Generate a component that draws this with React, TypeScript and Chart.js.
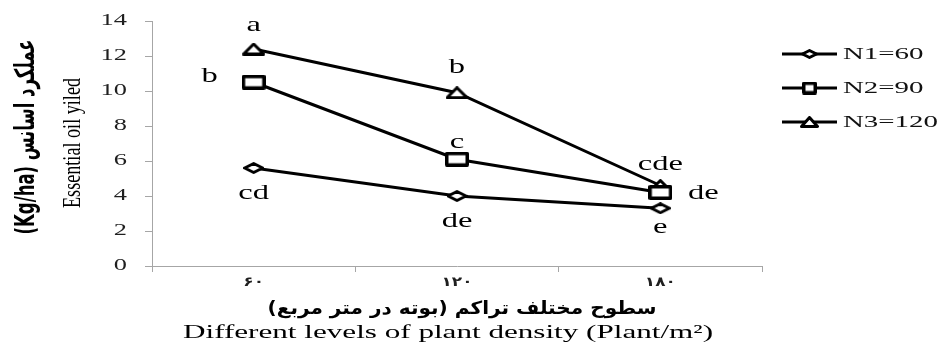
import React, { useEffect, useRef } from 'react';
import { Chart, registerables } from 'chart.js';

Chart.register(...registerables);

// ---------- data ----------
const categories = ['۶۰', '۱۲۰', '۱۸۰'];
const seriesNames = ['N1=60', 'N2=90', 'N3=120'];
const n1Values = [5.6, 4.0, 3.3];
const n2Values = [10.5, 6.1, 4.2];
const n3Values = [12.4, 9.9, 4.6];
const n1Letters = ['cd', 'de', 'e'];
const n2Letters = ['b', 'c', 'de'];
const n3Letters = ['a', 'b', 'cde'];
const yMin = 0;
const yMax = 14;
const yStep = 2;
const yTitleFa = 'عملکرد اسانس (Kg/ha)';
const yTitleEn = 'Essential oil yiled';
const xTitleFa = 'سطوح مختلف تراکم (بوته در متر مربع)';
const xTitleEn = 'Different levels of plant density (Plant/m²)';

// ---------- styling / placement (not data) ----------
const letterOffsets = [
  [[0, 31], [0, 31], [0, 25]],
  [[-44, 0], [0, -11], [43, 6]],
  [[0, -18], [0, -20], [0, -16]],
];
const SERIF = '"Liberation Serif", "Times New Roman", serif';
const FA = '"DejaVu Sans", sans-serif';

function makeMarker(shape: string, w: number, h: number, lw: number) {
  const c = document.createElement('canvas');
  c.width = w;
  c.height = h;
  const ctx = c.getContext('2d')!;
  ctx.lineWidth = lw;
  ctx.strokeStyle = '#000';
  ctx.fillStyle = '#fff';
  ctx.lineJoin = 'round';
  const p = lw / 2;
  ctx.beginPath();
  if (shape === 'square') {
    ctx.rect(p, p, w - lw, h - lw);
  } else if (shape === 'diamond') {
    ctx.moveTo(w / 2, p);
    ctx.lineTo(w - p, h / 2);
    ctx.lineTo(w / 2, h - p);
    ctx.lineTo(p, h / 2);
    ctx.closePath();
  } else {
    ctx.moveTo(w / 2, p);
    ctx.lineTo(w - p, h - p);
    ctx.lineTo(p, h - p);
    ctx.closePath();
  }
  ctx.fill();
  ctx.stroke();
  return c;
}

type TOpts = {
  font: string;
  sx?: number;
  fitW?: number;
  align?: CanvasTextAlign;
  baseline?: CanvasTextBaseline;
  dir?: CanvasDirection;
  color?: string;
  rotated?: boolean;
  thick?: number;
};

function drawText(ctx: CanvasRenderingContext2D, text: string, x: number, y: number, o: TOpts) {
  ctx.save();
  ctx.font = o.font;
  ctx.direction = o.dir || 'ltr';
  ctx.fillStyle = o.color || '#000';
  ctx.textAlign = o.align || 'center';
  ctx.textBaseline = o.baseline || 'alphabetic';
  const w = ctx.measureText(text).width;
  let s = o.sx || 1;
  if (o.fitW) s = o.fitW / w;
  ctx.translate(x, y);
  if (o.rotated) {
    ctx.scale(o.thick || 1, s);
    ctx.rotate(-Math.PI / 2);
  } else {
    ctx.scale(s, 1);
  }
  ctx.fillText(text, 0, 0);
  ctx.restore();
}

export default function App() {
  const ref = useRef<HTMLCanvasElement | null>(null);

  useEffect(() => {
    const chartMarkers = [
      makeMarker('diamond', 21, 12, 3),
      makeMarker('square', 24, 15, 3.5),
      makeMarker('triangle', 23, 13, 3),
    ];
    const legendMarkers = [
      makeMarker('diamond', 17, 10, 3),
      makeMarker('square', 15, 13, 3.5),
      makeMarker('triangle', 19, 12, 3),
    ];
    const letters = [n1Letters, n2Letters, n3Letters];

    const overlay = {
      id: 'overlay',
      afterDraw(chart: any) {
        const ctx: CanvasRenderingContext2D = chart.ctx;
        const area = chart.chartArea;
        const xs = chart.scales.x;
        const ys = chart.scales.y;

        // y tick labels
        ys.ticks.forEach((t: any) => {
          const py = ys.getPixelForValue(t.value);
          drawText(ctx, String(t.value), area.left - 25, py, {
            font: `16px ${SERIF}`, sx: 1.65, align: 'right', baseline: 'middle', color: '#1f1f1f',
          });
        });

        // x tick labels
        categories.forEach((c, i) => {
          const px = xs.getPixelForValue(i);
          drawText(ctx, c, px, area.bottom + 17, {
            font: `bold 13px ${FA}`, sx: 1.3, align: 'center', baseline: 'middle', color: '#1f1f1f', dir: 'rtl',
          });
        });

        // significance letters
        chart.data.datasets.forEach((_ds: any, di: number) => {
          const meta = chart.getDatasetMeta(di);
          meta.data.forEach((pt: any, i: number) => {
            const [dx, dy] = letterOffsets[di][i];
            drawText(ctx, letters[di][i], pt.x + dx, pt.y + dy, {
              font: `21px ${SERIF}`, sx: 1.55, align: 'center', baseline: 'alphabetic',
            });
          });
        });

        // legend
        seriesNames.forEach((name, i) => {
          const ry = 54 + 34 * i;
          ctx.save();
          ctx.strokeStyle = '#000';
          ctx.lineWidth = 3;
          ctx.beginPath();
          ctx.moveTo(782, ry);
          ctx.lineTo(837, ry);
          ctx.stroke();
          const m = legendMarkers[i];
          ctx.drawImage(m, 809.5 - m.width / 2, ry - m.height / 2);
          ctx.restore();
          drawText(ctx, name, 843, ry + 1, {
            font: `17px ${SERIF}`, sx: 1.7, align: 'left', baseline: 'middle', color: '#111',
          });
        });

        // y titles (rotated)
        drawText(ctx, yTitleFa, 27, 137, {
          font: `bold 20px ${FA}`, fitW: 195, rotated: true, thick: 1.35, align: 'center', baseline: 'middle', dir: 'rtl',
        });
        drawText(ctx, yTitleEn, 73, 143, {
          font: `18px ${SERIF}`, fitW: 130, rotated: true, thick: 1.4, align: 'center', baseline: 'middle',
        });

        // x titles
        drawText(ctx, xTitleFa, 462, 309, {
          font: `bold 18px ${FA}`, fitW: 389, align: 'center', baseline: 'middle', dir: 'rtl',
        });
        drawText(ctx, xTitleEn, 448, 338, {
          font: `19px ${SERIF}`, fitW: 530, align: 'center', baseline: 'alphabetic',
        });
      },
    };

    const mk = (label: string, data: number[], i: number) => ({
      label,
      data,
      borderColor: '#000',
      backgroundColor: '#fff',
      borderWidth: 3,
      tension: 0,
      pointStyle: chartMarkers[i],
      pointRadius: 7,
      pointHoverRadius: 7,
    });

    const chart = new Chart(ref.current!, {
      type: 'line',
      data: {
        labels: categories,
        datasets: [mk(seriesNames[0], n1Values, 0), mk(seriesNames[1], n2Values, 1), mk(seriesNames[2], n3Values, 2)],
      },
      options: {
        responsive: false,
        animation: false,
        devicePixelRatio: 1,
        layout: { padding: { left: 145, right: 179, top: 21, bottom: 77 } },
        plugins: { legend: { display: false }, tooltip: { enabled: false } },
        scales: {
          x: {
            type: 'category',
            offset: true,
            grid: { offset: true, drawOnChartArea: false, tickLength: 6, color: '#a6a6a6' },
            border: { color: '#a6a6a6', width: 1 },
            ticks: { display: false },
            afterFit: (s: any) => { s.height = 6; },
          },
          y: {
            min: yMin,
            max: yMax,
            ticks: { display: false, stepSize: yStep },
            grid: { drawOnChartArea: false, tickLength: 7, color: '#a6a6a6' },
            border: { color: '#a6a6a6', width: 1 },
            afterFit: (s: any) => { s.width = 7; },
          },
        },
      },
      plugins: [overlay],
    } as any);

    return () => chart.destroy();
  }, []);

  return (
    <div style={{ position: 'absolute', left: 0, top: 0, width: 941, height: 349, background: '#fff' }}>
      <canvas ref={ref} width={941} height={349} style={{ display: 'block', width: 941, height: 349 }} />
    </div>
  );
}
